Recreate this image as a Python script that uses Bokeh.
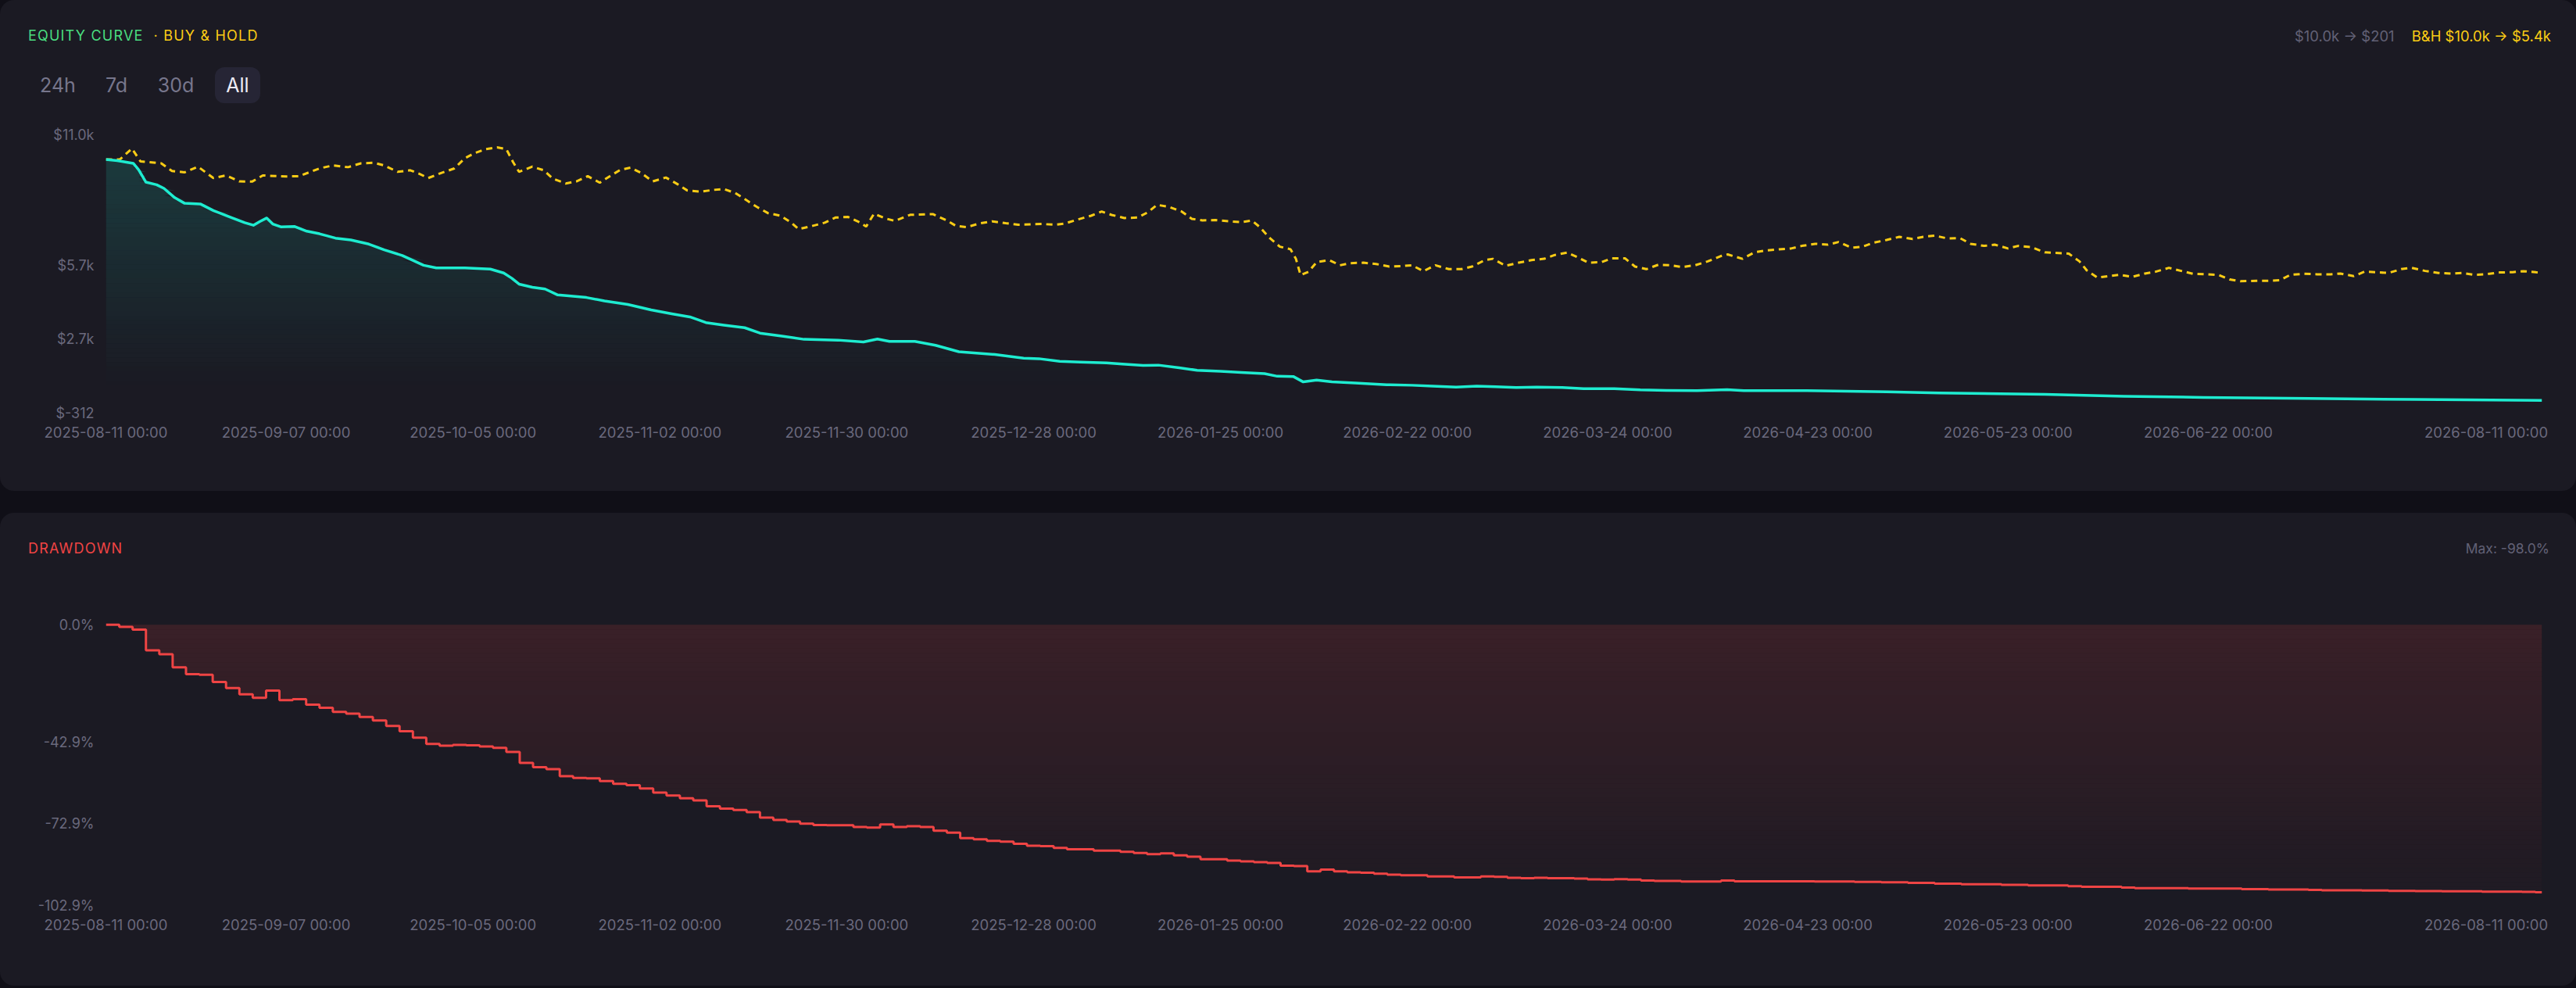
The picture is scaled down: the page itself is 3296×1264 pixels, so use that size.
import numpy as np
from datetime import datetime, timedelta
from bokeh.plotting import figure
from bokeh.models import Range1d, FixedTicker, Div, GlobalInlineStyleSheet
from bokeh.layouts import column
from bokeh.embed import file_html
from bokeh.resources import INLINE

# ---------------- data ----------------
START_DATE = "2025-08-11"
END_DATE = "2026-08-11"

# strategy equity (days since start, $)
EQ_DAY = [0, 1.7, 4.1, 4.9, 6.0, 7.6, 8.7, 10.3, 11.8, 14.2,
          16.1, 18.8, 20.8, 22.1, 23.1, 24.1, 25.0, 26.2, 28.3, 30.1,
          32.0, 34.4, 36.7, 39.4, 41.7, 44.4, 47.6, 49.5, 53.8, 57.6,
          59.6, 60.8, 61.9, 63.9, 65.8, 67.7, 72.0, 74.7, 78.2, 81.7,
          84.8, 87.5, 89.9, 92.6, 95.7, 98.0, 101.5, 104.6, 109.7, 113.5,
          115.6, 117.4, 121.2, 124.3, 127.8, 133.2, 137.5, 139.8, 142.9, 146.0,
          149.9, 152.3, 155.4, 157.7, 160.8, 163.5, 167.0, 170.1, 173.6, 175.5,
          177.9, 179.4, 181.4, 183.7, 187.2, 191.9, 195.7, 198.8, 202.3, 205.4,
          208.2, 211.3, 214.4, 218.2, 221.4, 226.0, 229.9, 233.8, 238.4, 242.9,
          245.4, 254.9, 266.8, 274.7, 290.5, 302.4, 314.3, 330.1, 345.9, 365]
EQ_VAL = [10000, 9950, 9842, 9580, 9076, 8971, 8824, 8447, 8216, 8184,
          7922, 7638, 7428, 7324, 7481, 7618, 7376, 7261, 7271, 7083,
          6978, 6800, 6726, 6558, 6327, 6096, 5698, 5593, 5593, 5541,
          5383, 5173, 4932, 4806, 4732, 4492, 4387, 4250, 4104, 3883,
          3725, 3599, 3368, 3264, 3159, 2939, 2813, 2687, 2655, 2582,
          2697, 2603, 2603, 2445, 2183, 2068, 1921, 1900, 1796, 1764,
          1732, 1680, 1627, 1638, 1533, 1428, 1387, 1344, 1291, 1186,
          1177, 956, 1029, 956, 914, 841, 820, 788, 746, 788,
          757, 725, 746, 725, 683, 683, 631, 610, 599, 640,
          599, 599, 557, 505, 452, 368, 327, 284, 243, 201]

# buy & hold (days since start, $)
BH_DAY = [0, 2.1, 3.9, 5.2, 6.4, 8.3, 9.9, 11.8, 13.8, 16.1,
          18.0, 20.0, 21.9, 23.5, 27.0, 28.9, 32.0, 34.0, 36.3, 38.2,
          40.2, 41.7, 43.7, 45.6, 46.9, 48.3, 50.3, 52.2, 53.8, 55.3,
          56.9, 58.6, 60.0, 61.0, 61.9, 63.9, 65.6, 67.0, 68.9, 70.5,
          72.2, 74.0, 75.5, 77.1, 78.6, 80.2, 81.9, 83.9, 85.6, 87.1,
          89.1, 91.0, 92.6, 94.3, 96.1, 97.6, 99.2, 101.1, 102.7, 103.8,
          105.8, 107.7, 109.3, 111.2, 112.8, 113.9, 115.1, 116.7, 118.2, 120.5,
          123.9, 125.9, 127.4, 129.0, 130.9, 132.8, 134.8, 136.7, 140.2, 142.2,
          143.7, 145.7, 147.6, 149.2, 150.7, 152.6, 154.6, 156.1, 157.5, 159.2,
          161.2, 162.7, 164.3, 166.2, 168.6, 170.1, 171.7, 172.8, 174.4, 175.9,
          177.5, 178.3, 179.0, 180.2, 181.4, 183.3, 184.9, 186.4, 188.4, 190.3,
          192.3, 194.2, 195.7, 197.4, 199.2, 201.2, 203.1, 204.7, 206.6, 207.8,
          209.7, 211.7, 213.6, 215.5, 217.1, 218.9, 220.6, 222.1, 224.1, 225.6,
          227.6, 229.1, 230.8, 232.6, 234.4, 236.1, 238.1, 240.0, 241.9, 243.0,
          245.2, 247.0, 248.9, 252.5, 254.1, 256.1, 258.0, 259.6, 261.6, 263.2,
          264.8, 266.8, 268.7, 270.7, 272.3, 274.0, 275.9, 277.8, 279.4, 281.4,
          283.0, 285.0, 286.5, 288.5, 290.5, 292.1, 294.1, 295.7, 296.8, 298.4,
          300.0, 301.7, 303.6, 305.5, 307.1, 309.1, 311.1, 312.7, 314.7, 316.6,
          318.2, 319.8, 322.2, 324.2, 325.7, 327.3, 329.3, 331.3, 333.3, 334.8,
          336.8, 338.4, 340.2, 342.0, 343.9, 345.5, 347.5, 349.5, 351.3, 353.1,
          354.8, 356.6, 358.6, 360.6, 362.2, 364.1, 365]
BH_VAL = [10000, 10000, 10440, 9916, 9895, 9842, 9528, 9475, 9706, 9244,
          9349, 9107, 9098, 9349, 9307, 9318, 9633, 9758, 9685, 9842,
          9863, 9758, 9496, 9559, 9422, 9244, 9454, 9633, 10052, 10262,
          10419, 10492, 10419, 9895, 9496, 9706, 9559, 9212, 9023, 9107,
          9318, 9055, 9318, 9580, 9664, 9454, 9107, 9265, 9002, 8740,
          8688, 8761, 8793, 8635, 8320, 8059, 7817, 7712, 7428, 7167,
          7293, 7428, 7638, 7660, 7460, 7271, 7796, 7607, 7502, 7750,
          7775, 7534, 7293, 7250, 7397, 7481, 7408, 7346, 7376, 7346,
          7397, 7565, 7712, 7880, 7744, 7618, 7638, 7849, 8153, 8079,
          7880, 7586, 7524, 7534, 7481, 7450, 7513, 7271, 6800, 6453,
          6348, 5960, 5299, 5436, 5824, 5908, 5698, 5782, 5803, 5751,
          5646, 5667, 5698, 5457, 5698, 5541, 5541, 5646, 5908, 5960,
          5677, 5803, 5908, 5960, 6117, 6212, 6012, 5803, 5824, 5981,
          5981, 5646, 5541, 5719, 5698, 5625, 5698, 5856, 6065, 6139,
          5960, 6222, 6306, 6380, 6485, 6569, 6537, 6642, 6411, 6453,
          6610, 6726, 6852, 6768, 6852, 6904, 6789, 6800, 6569, 6485,
          6537, 6380, 6485, 6432, 6222, 6201, 6170, 5856, 5488, 5194,
          5257, 5310, 5226, 5362, 5436, 5593, 5457, 5352, 5331, 5299,
          5121, 5048, 5068, 5068, 5089, 5310, 5352, 5331, 5331, 5362,
          5257, 5436, 5415, 5383, 5541, 5593, 5467, 5383, 5362, 5383,
          5310, 5331, 5404, 5415, 5457, 5415, 5400]

# drawdown (days since start, %)
DD_DAY = [0, 2, 4, 6, 8, 10, 12, 14, 16, 18,
          20, 22, 24, 26, 28, 30, 32, 34, 36, 38,
          40, 42, 44, 46, 48, 50, 52, 54, 56, 58,
          60, 62, 64, 66, 68, 70, 72, 74, 76, 78,
          80, 82, 84, 86, 88, 90, 92, 94, 96, 98,
          100, 102, 104, 106, 108, 110, 112, 114, 116, 118,
          120, 122, 124, 126, 128, 130, 132, 134, 136, 138,
          140, 142, 144, 146, 148, 150, 152, 154, 156, 158,
          160, 162, 164, 166, 168, 170, 172, 174, 176, 178,
          180, 182, 184, 186, 188, 190, 192, 194, 196, 198,
          200, 202, 204, 206, 208, 210, 212, 214, 216, 218,
          220, 222, 224, 226, 228, 230, 232, 234, 236, 238,
          240, 242,
          244, 250, 256, 262, 266, 270, 274, 278, 284, 288,
          294, 296, 302, 304, 312, 320, 324, 330, 332, 338,
          342, 346, 350, 356, 362, 364, 365]
DD_VAL = [0.0, -0.8, -1.8, -9.4, -10.8, -15.6, -18.1, -18.3, -21.0, -23.2,
          -25.5, -26.8, -24.1, -27.6, -27.3, -29.3, -30.4, -31.9, -32.6, -33.8,
          -35.1, -37.1, -39.0, -41.4, -43.7, -44.3, -44.0, -44.2, -44.6, -45.1,
          -46.6, -50.6, -52.2, -52.9, -55.5, -56.1, -56.3, -57.3, -58.3, -58.8,
          -60.0, -61.5, -62.6, -63.6, -64.4, -66.5, -67.4, -67.9, -68.7, -70.7,
          -71.5, -72.1, -72.9, -73.4, -73.5, -73.5, -74.1, -74.3, -73.2, -74.1,
          -73.8, -74.1, -75.5, -76.2, -78.2, -78.6, -79.2, -79.5, -80.3, -81.0,
          -81.1, -81.8, -82.3, -82.3, -82.8, -82.8, -83.2, -83.6, -84.1, -83.8,
          -84.5, -85.0, -85.9, -85.9, -86.4, -86.7, -87.0, -87.3, -88.3, -88.4,
          -90.4, -89.7, -90.4, -90.7, -90.9, -91.2, -91.6, -91.8, -91.8, -92.2,
          -92.2, -92.6, -92.6, -92.2, -92.4, -92.7, -92.9, -92.7, -92.9, -92.9,
          -93.0, -93.3, -93.4, -93.2, -93.4, -93.7, -93.9, -93.9, -94.1, -94.1,
          -94.1, -93.7,
          -94.0, -94.0, -94.1, -94.2, -94.4, -94.6, -94.9, -95.1, -95.3, -95.5,
          -95.8, -96.0, -96.3, -96.5, -96.7, -96.9, -97.0, -97.2, -97.3, -97.4,
          -97.5, -97.6, -97.7, -97.8, -97.9, -98.0, -98.0]

X_TICK_DATES = ["2025-08-11", "2025-09-07", "2025-10-05", "2025-11-02", "2025-11-30",
                "2025-12-28", "2026-01-25", "2026-02-22", "2026-03-24", "2026-04-23",
                "2026-05-23", "2026-06-22", "2026-08-11"]
EQ_TICKS = [-312, 2700, 5700, 11000]
EQ_TICK_LABELS = ["$-312", "$2.7k", "$5.7k", "$11.0k"]
EQ_RANGE = (-312, 11000)
DD_TICKS = [-102.9, -72.9, -42.9, 0.0]
DD_TICK_LABELS = ["-102.9%", "-72.9%", "-42.9%", "0.0%"]
DD_RANGE = (-102.9, 0.8)
RANGE_BUTTONS = ["24h", "7d", "30d", "All"]
ACTIVE_BUTTON = "All"
STRAT_SUMMARY = "$10.0k → $201"
BH_SUMMARY = "B&amp;H $10.0k → $5.4k"
MAX_DD_TEXT = "Max: -98.0%"

assert len(EQ_DAY) == len(EQ_VAL)
assert len(BH_DAY) == len(BH_VAL)
assert len(DD_DAY) == len(DD_VAL)

# ---------------- styling ----------------
PAGE = "#100f17"
CARD = "#1b1a23"
GREEN = "#4ade80"
YELLOW = "#facc15"
CYAN = "#1eecd0"
RED = "#ef4444"
AXIS_TXT = "#6a697d"
MUTED = "#626176"
FONT = "Inter"
W = 3296

EPOCH = datetime(1970, 1, 1)
start = datetime.fromisoformat(START_DATE)
end = datetime.fromisoformat(END_DATE)


def ms(d):
    return (d - EPOCH).total_seconds() * 1000.0


def days_ms(days):
    return np.array([ms(start + timedelta(days=float(d))) for d in days])


x_tick_ms = [ms(datetime.fromisoformat(d)) for d in X_TICK_DATES]
x_tick_txt = [d + " 00:00" for d in X_TICK_DATES]
# the last date label sits at the right edge of the plot: pad it with no-break
# spaces so that its visible part ends at the edge instead of being centred on it
x_tick_txt[-1] = x_tick_txt[-1] + "\u00a0" * 7


def style_plot(p, yticks, ylabels):
    p.grid.visible = False
    p.outline_line_color = None
    p.background_fill_color = None
    p.border_fill_color = None
    for ax in (p.xaxis[0], p.yaxis[0]):
        ax.axis_line_color = None
        ax.major_tick_line_color = None
        ax.minor_tick_line_color = None
        ax.major_tick_out = 0
        ax.major_tick_in = 0
        ax.minor_tick_out = 0
        ax.minor_tick_in = 0
        ax.major_label_text_color = AXIS_TXT
        ax.major_label_text_font = FONT
    p.xaxis[0].major_label_text_font_size = "18.5px"
    p.yaxis[0].major_label_text_font_size = "18px"
    p.xaxis[0].ticker = FixedTicker(ticks=x_tick_ms)
    p.xaxis[0].major_label_overrides = {t: s for t, s in zip(x_tick_ms, x_tick_txt)}
    p.xaxis[0].major_label_standoff = 13
    p.yaxis[0].ticker = FixedTicker(ticks=yticks)
    p.yaxis[0].major_label_overrides = {t: s for t, s in zip(yticks, ylabels)}
    p.yaxis[0].major_label_standoff = 15


# ---------------- equity figure ----------------
p1 = figure(width=W, height=478, x_axis_type="datetime", output_backend="svg",
            toolbar_location=None,
            x_range=Range1d(ms(start), ms(end)), y_range=Range1d(*EQ_RANGE),
            min_border_left=135, min_border_right=44, min_border_top=22, min_border_bottom=100)
style_plot(p1, EQ_TICKS, EQ_TICK_LABELS)

eq_x = days_ms(EQ_DAY)
eq_y = np.array(EQ_VAL, dtype=float)
edges = np.linspace(EQ_RANGE[0], EQ_RANGE[1], 61)
for lo, hi in zip(edges[:-1], edges[1:]):
    mid = 0.5 * (lo + hi)
    a = 0.17 * max(0.0, (mid - 730) / (EQ_RANGE[1] - 730))
    if a <= 0.002:
        continue
    top = np.clip(eq_y, lo, hi)
    p1.varea(x=eq_x, y1=np.full(len(eq_x), lo), y2=top, fill_color=CYAN, fill_alpha=a)

p1.line(days_ms(BH_DAY), BH_VAL, line_color=YELLOW, line_width=3, line_dash="8 6")
p1.line(eq_x, eq_y, line_color=CYAN, line_width=3.5, line_join="round")

# ---------------- drawdown figure ----------------
p2 = figure(width=W, height=475, x_axis_type="datetime", output_backend="svg",
            toolbar_location=None,
            x_range=Range1d(ms(start), ms(end)), y_range=Range1d(*DD_RANGE),
            min_border_left=135, min_border_right=44, min_border_top=10, min_border_bottom=103)
style_plot(p2, DD_TICKS, DD_TICK_LABELS)

dd_x = days_ms(DD_DAY)
dd_y = np.array(DD_VAL, dtype=float)
dedges = np.linspace(DD_RANGE[0], 0.0, 61)
for lo, hi in zip(dedges[:-1], dedges[1:]):
    mid = 0.5 * (lo + hi)
    a = 0.145 * max(0.0, (mid + 115.0) / 115.0)
    bottom = np.clip(dd_y, lo, hi)
    p2.varea_step(x=dd_x, y1=bottom, y2=np.full(len(dd_x), hi), step_mode="after",
                  fill_color=RED, fill_alpha=a)
p2.step(dd_x, dd_y, mode="after", line_color=RED, line_width=3)

# ---------------- headers ----------------
BTN_CX = [74, 149, 225, 304]
BTN_W = [52, 44, 52, 58]
btns = ""
for name, cx, bw in zip(RANGE_BUTTONS, BTN_CX, BTN_W):
    act = name == ACTIVE_BUTTON
    btns += (f'<div style="position:absolute;left:{cx - bw / 2}px;top:86px;width:{bw}px;height:46px;'
             f'line-height:46px;text-align:center;font-size:25px;border-radius:12px;'
             f'color:{"#ecebf5" if act else "#77768c"};background:{"#262535" if act else "transparent"};">{name}</div>')

hdr1_html = (
    f'<div style="position:relative;width:{W}px;height:150px;font-family:Inter,sans-serif;">'
    f'<div style="position:absolute;left:36px;top:34px;height:24px;line-height:24px;font-size:18px;'
    f'font-weight:400;letter-spacing:1.2px;white-space:nowrap;">'
    f'<span style="color:{GREEN}">EQUITY CURVE</span>'
    f'<span style="color:{YELLOW};margin-left:13px">· BUY &amp; HOLD</span></div>'
    f'<div style="position:absolute;right:32px;top:34px;height:24px;line-height:24px;font-size:18.5px;white-space:nowrap;">'
    f'<span style="color:{MUTED}">{STRAT_SUMMARY}</span>'
    f'<span style="color:{YELLOW};margin-left:22px">{BH_SUMMARY}</span></div>'
    f'{btns}</div>'
)
hdr2_html = (
    f'<div style="position:relative;width:{W}px;height:130px;font-family:Inter,sans-serif;">'
    f'<div style="position:absolute;left:36px;top:34px;height:24px;line-height:24px;font-size:18px;'
    f'font-weight:400;letter-spacing:1.2px;white-space:nowrap;color:{RED}">DRAWDOWN</div>'
    f'<div style="position:absolute;right:34px;top:34px;height:24px;line-height:24px;font-size:17.5px;'
    f'white-space:nowrap;color:{MUTED}">{MAX_DD_TEXT}</div></div>'
)
hdr1 = Div(text=hdr1_html, width=W, height=150, margin=0, disable_math=True)
hdr2 = Div(text=hdr2_html, width=W, height=130, margin=0, disable_math=True)

card_style = {"background-color": CARD, "border-radius": "18px", "overflow": "hidden"}
card1 = column(hdr1, p1, width=W, height=628, styles=card_style)
card2 = column(hdr2, p2, width=W, height=605, styles=card_style)

root = column(card1, card2, spacing=28, width=W, height=1261,
              styles={"background-color": PAGE},
              stylesheets=[GlobalInlineStyleSheet(
                  css=f"html, body {{ margin: 0 !important; padding: 0; background: {PAGE}; overflow: hidden; }}")])

open("out.html", "w").write(file_html(root, INLINE))
